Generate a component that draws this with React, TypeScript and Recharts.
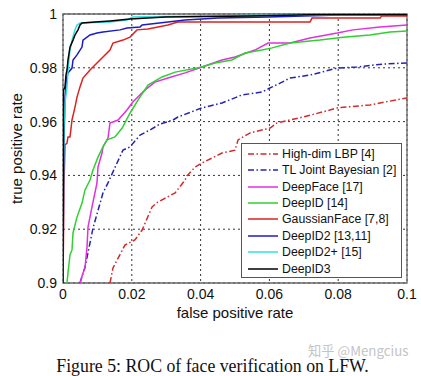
import React from 'react';
import { LineChart, Line, XAxis, YAxis, CartesianGrid, ReferenceArea } from 'recharts';

type P = { x: number; y: number };
const pts = (arr: number[][]): P[] => arr.map(([x, y]) => ({ x, y }));

const highDimLBP = pts([
  [0.01366, 0.9], [0.01453, 0.9056], [0.018, 0.9141], [0.0209, 0.916], [0.023, 0.9197],
  [0.0259, 0.9283], [0.0276, 0.9301], [0.0326, 0.9335], [0.0355, 0.9383], [0.036, 0.9398],
  [0.0384, 0.9431], [0.0404, 0.9446], [0.0462, 0.9483], [0.05, 0.9494], [0.0509, 0.9532],
  [0.0544, 0.9558], [0.0602, 0.9576], [0.0622, 0.9595], [0.0698, 0.9617], [0.0776, 0.9643],
  [0.0797, 0.9651], [0.0892, 0.9662], [0.1, 0.9688],
]);
const tlJointBayesian = pts([
  [0.00494, 0.9], [0.0064, 0.9059], [0.00785, 0.9149], [0.00872, 0.9204], [0.01163, 0.9335],
  [0.01308, 0.9372], [0.01453, 0.9413], [0.0157, 0.9446], [0.01744, 0.9494], [0.01948, 0.9506],
  [0.0224, 0.955], [0.0253, 0.9569], [0.0282, 0.9591], [0.032, 0.9606], [0.0334, 0.9617],
  [0.0404, 0.9651], [0.0462, 0.9669], [0.052, 0.9699], [0.0578, 0.971], [0.0608, 0.9729],
  [0.0631, 0.9743], [0.066, 0.9762], [0.0718, 0.9773], [0.0797, 0.9799], [0.0855, 0.9803],
  [0.093, 0.9814], [0.1, 0.9818],
]);
const deepFace = pts([
  [0.00494, 0.9], [0.00581, 0.9037], [0.0064, 0.9056], [0.00698, 0.9134], [0.00727, 0.9208],
  [0.00843, 0.9283], [0.00988, 0.9372], [0.01017, 0.9431], [0.01134, 0.9483], [0.01163, 0.9506],
  [0.01308, 0.9539], [0.01366, 0.9595], [0.016, 0.9606], [0.0186, 0.9643], [0.0203, 0.9673],
  [0.0238, 0.9717], [0.0267, 0.9747], [0.0305, 0.9762], [0.0355, 0.9781], [0.0404, 0.9803],
  [0.0462, 0.9829], [0.05, 0.984], [0.0558, 0.9866], [0.0596, 0.9892], [0.066, 0.9892],
  [0.0718, 0.9911], [0.0797, 0.9929], [0.0843, 0.9941], [0.0922, 0.9952], [0.1, 0.9959],
]);
const deepID = pts([
  [0.00116, 0.9], [0.00145, 0.9037], [0.00203, 0.9104], [0.00262, 0.9123], [0.00291, 0.9186],
  [0.00407, 0.9245], [0.00552, 0.9297], [0.0064, 0.9346], [0.00785, 0.9383], [0.00872, 0.942],
  [0.01017, 0.9468], [0.01163, 0.9506], [0.01279, 0.9532], [0.0151, 0.9543], [0.0172, 0.9576],
  [0.0195, 0.9632], [0.0218, 0.968], [0.0247, 0.9736], [0.0288, 0.9766], [0.0326, 0.9784],
  [0.0404, 0.9803], [0.0442, 0.9818], [0.0491, 0.9829], [0.0529, 0.9855], [0.0578, 0.9866],
  [0.0608, 0.9874], [0.066, 0.9892], [0.0747, 0.9903], [0.0814, 0.9914], [0.0892, 0.9922],
  [0.0951, 0.9933], [0.1, 0.9937],
]);
const gaussianFace = pts([
  [0, 0.9], [0.00029, 0.9364], [0.00058, 0.9513], [0.00116, 0.952], [0.00145, 0.9543],
  [0.00203, 0.9543], [0.00262, 0.9606], [0.00349, 0.9654], [0.00407, 0.9691], [0.00494, 0.9729],
  [0.00581, 0.9762], [0.00785, 0.9792], [0.00988, 0.9818], [0.01163, 0.984], [0.01366, 0.9866],
  [0.01453, 0.9892], [0.01744, 0.9903], [0.01948, 0.9914], [0.0215, 0.9941], [0.0247, 0.9944],
  [0.0305, 0.9959], [0.0334, 0.997], [0.0718, 0.997], [0.0724, 0.9985], [0.0922, 0.9985],
  [0.0927, 0.9993], [0.1, 0.9993],
]);
const deepID2 = pts([
  [0, 0.9], [0.00015, 0.9383], [0.00029, 0.9532], [0.00058, 0.968], [0.00087, 0.9736],
  [0.00116, 0.9766], [0.00145, 0.9781], [0.00262, 0.9799], [0.00291, 0.9829], [0.00407, 0.9848],
  [0.00552, 0.9877], [0.00581, 0.9903], [0.00785, 0.9922], [0.00988, 0.9929], [0.01163, 0.9933],
  [0.01657, 0.9941], [0.0186, 0.9948], [0.0224, 0.9952], [0.023, 0.9959], [0.0305, 0.997],
  [0.0355, 0.9978], [0.0451, 0.9985], [0.0596, 0.9989], [0.0805, 0.9996], [0.1, 0.9996],
]);
const deepID2Plus = pts([
  [0, 0.9], [0.00015, 0.9383], [0.00029, 0.9587], [0.00058, 0.9669], [0.00116, 0.9729],
  [0.00145, 0.9792], [0.00203, 0.9866], [0.00262, 0.9903], [0.00349, 0.9941], [0.00407, 0.9959],
  [0.00494, 0.9967], [0.01366, 0.997], [0.0186, 0.9978], [0.0203, 0.9989], [0.0398, 0.9993],
  [0.0689, 0.9996], [0.1, 0.9998],
]);
const deepID3 = pts([
  [0, 0.9], [0.00015, 0.9717], [0.00058, 0.9729], [0.00087, 0.9773], [0.00116, 0.9792],
  [0.00145, 0.9829], [0.00203, 0.9877], [0.00291, 0.9903], [0.00349, 0.9922], [0.00436, 0.9941],
  [0.00494, 0.9959], [0.00552, 0.9967], [0.0093, 0.997], [0.01366, 0.9974], [0.0195, 0.9981],
  [0.0297, 0.9989], [0.0544, 0.9993], [0.0747, 0.9998], [0.1, 0.9998],
]);

const seriesNames = [
  'High-dim LBP [4]', 'TL Joint Bayesian [2]', 'DeepFace [17]', 'DeepID [14]',
  'GaussianFace [7,8]', 'DeepID2 [13,11]', 'DeepID2+ [15]', 'DeepID3',
];
const seriesData = [highDimLBP, tlJointBayesian, deepFace, deepID, gaussianFace, deepID2, deepID2Plus, deepID3];
const seriesColors = ['#d42a2a', '#2424b0', '#e030e0', '#30d030', '#dd2222', '#1c1cc8', '#30e0e0', '#000000'];
const seriesDash = ['6 2.5 1.5 2.5', '6 2.5 1.5 2.5', undefined, undefined, undefined, undefined, undefined, undefined];

const xTicks = [0, 0.02, 0.04, 0.06, 0.08, 0.1];
const xTickLabels = ['0', '0.02', '0.04', '0.06', '0.08', '0.1'];
const yTicks = [0.9, 0.92, 0.94, 0.96, 0.98, 1];
const yTickLabels = ['0.9', '0.92', '0.94', '0.96', '0.98', '1'];

const xTitle = 'false positive rate';
const yTitle = 'true positive rate';
const caption = 'Figure 5: ROC of face verification on LFW.';
const watermark = '知乎 @Mengcius';

const SANS = '"Liberation Sans", Arial, sans-serif';

export default function App() {
  return (
    <div style={{ position: 'absolute', left: 0, top: 0, width: 421, height: 376, background: '#fff', overflow: 'hidden' }}>
      <LineChart width={421} height={376} margin={{ top: 14, right: 14, left: 13, bottom: 63 }}>
        <CartesianGrid stroke="#333" strokeDasharray="2 3" strokeWidth={1} />
        <XAxis
          type="number"
          dataKey="x"
          domain={[0, 0.1]}
          ticks={xTicks}
          allowDataOverflow
          height={30}
          axisLine={false}
          tickLine={false}
          tickSize={0}
          tickMargin={6}
          tick={{ fill: '#111', fontSize: 14, fontFamily: SANS }}
          tickFormatter={(v: number) => xTickLabels[xTicks.indexOf(v)] ?? String(v)}
          label={{
            content: (props: any) => {
              const vb = props.viewBox || {};
              return (
                <text x={vb.x + vb.width / 2} y={vb.y + 35} textAnchor="middle" fontSize={15} fontFamily={SANS} fill="#111">
                  {xTitle}
                </text>
              );
            },
          }}
        />
        <YAxis
          type="number"
          domain={[0.9, 1]}
          ticks={yTicks}
          allowDataOverflow
          width={50}
          axisLine={false}
          tickLine={false}
          tickSize={0}
          tickMargin={6}
          tick={{ fill: '#111', fontSize: 14, fontFamily: SANS }}
          tickFormatter={(v: number) => {
            const i = yTicks.findIndex((t) => Math.abs(t - v) < 1e-9);
            return i >= 0 ? yTickLabels[i] : String(v);
          }}
          label={{
            content: (props: any) => {
              const vb = props.viewBox || {};
              const cx = vb.x + 3;
              const cy = vb.y + vb.height / 2;
              return (
                <text x={cx} y={cy} transform={`rotate(-90 ${cx} ${cy})`} textAnchor="middle" dominantBaseline="central" fontSize={15} fontFamily={SANS} fill="#111">
                  {yTitle}
                </text>
              );
            },
          }}
        />
        {seriesData.map((d, i) => (
          <Line
            key={seriesNames[i]}
            data={d}
            dataKey="y"
            type="linear"
            stroke={seriesColors[i]}
            strokeWidth={1.5}
            strokeDasharray={seriesDash[i]}
            dot={false}
            activeDot={false}
            isAnimationActive={false}
          />
        ))}
        <ReferenceArea x1={0} x2={0.1} y1={0.9} y2={1} fill="none" stroke="#666" strokeWidth={1.3} ifOverflow="visible" />
      </LineChart>

      <div
        style={{
          position: 'absolute', left: 241, top: 143, width: 161, height: 135, boxSizing: 'border-box',
          border: '1px solid #555', background: '#fff', padding: '1.5px 0', fontFamily: SANS, fontSize: 12.3, color: '#111',
        }}
      >
        {seriesNames.map((name, i) => (
          <div key={name} style={{ height: 16.43, display: 'flex', alignItems: 'center', whiteSpace: 'nowrap' }}>
            <svg width={40} height={6} style={{ display: 'block' }}>
              <line x1={6} y1={3} x2={36} y2={3} stroke={seriesColors[i]} strokeWidth={1.5} strokeDasharray={seriesDash[i]} />
            </svg>
            <span>{name}</span>
          </div>
        ))}
      </div>

      <div
        style={{
          position: 'absolute', left: 308, top: 345, fontFamily: '"Noto Sans CJK SC", "Liberation Sans", sans-serif', fontSize: 13.3,
          color: '#c4c4c4', whiteSpace: 'nowrap', lineHeight: '12px',
        }}
      >
        {watermark}
      </div>

      <div
        style={{
          position: 'absolute', left: 0, width: 421, top: 359, textAlign: 'center', fontFamily: '"Liberation Serif", "Times New Roman", serif',
          fontSize: 17.8, color: '#111', whiteSpace: 'nowrap', lineHeight: '14px',
        }}
      >
        <span style={{ position: 'relative', left: 2 }}>{caption}</span>
      </div>
    </div>
  );
}
